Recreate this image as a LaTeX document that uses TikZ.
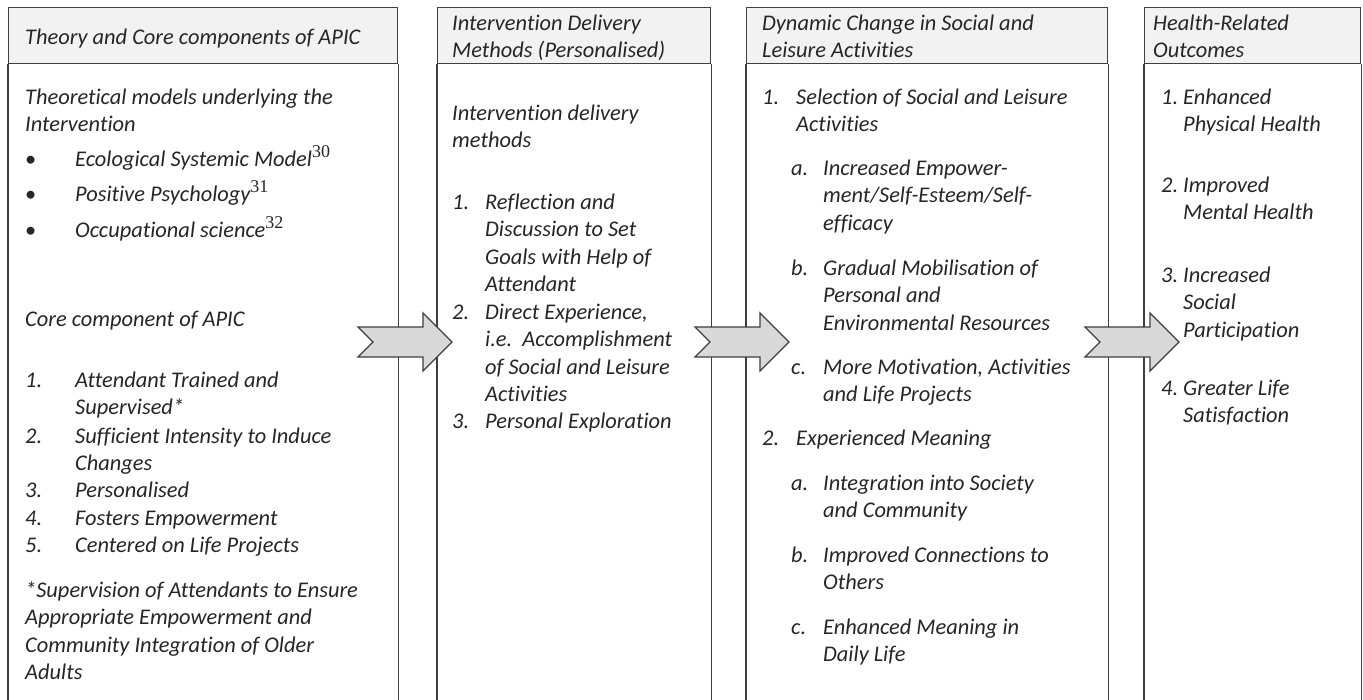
\documentclass[tikz,border=0pt]{standalone}
\usepackage{fontspec}
\setmainfont{Carlito}[Ligatures=NoCommon]
\newfontfamily\refnum{Liberation Serif}
\definecolor{framegray}{HTML}{3F3F3F}
\definecolor{headgray}{HTML}{F2F2F2}
\definecolor{arrowgray}{HTML}{D9D9D9}
\definecolor{inkgray}{HTML}{262626}
\newcommand{\refsup}[1]{\smash{\raisebox{9pt}{\refnum\upshape\fontsize{18}{18}\selectfont #1}}}

\begin{document}
\begin{tikzpicture}[x=1pt,y=-1pt,
  frame/.style={draw=framegray, line width=1.3pt},
  head/.style={frame, fill=headgray, anchor=north west, minimum height=56pt, inner sep=0pt},
  txt/.style={anchor=north west, yshift=19.18pt, inner sep=0pt, align=left, text=inkgray,
    font=\itshape\fontsize{22.4}{27.4}\selectfont, execute at begin node=\strut},
  blockarr/.style={frame, fill=arrowgray, line join=miter}]
\fill[white] (0,0) rectangle (1363,699);
\useasboundingbox (0,0) rectangle (1363,699);

% the four columns
\node[head, minimum width=389pt] (h1) at (8,7) {};
\node[head, minimum width=273pt] (h2) at (437,7) {};
\node[head, minimum width=361pt] (h3) at (746,7) {};
\node[head, minimum width=216pt] (h4) at (1144,7) {};
\draw[frame] (h1.south west) -- ++(0,700);
\draw[frame] (h1.south east) -- ++(0,700);
\draw[frame] (h2.south west) -- ++(0,700);
\draw[frame] (h2.south east) -- ++(0,700);
\draw[frame] (h3.south west) -- ++(0,700);
\draw[frame] (h3.south east) -- ++(0,700);
\draw[frame] (h4.south west) -- ++(0,700);
\draw[frame] (h4.south east) -- ++(0,700);
\node[txt] (k1) at (25,44) {Theory and Core components of APIC};
\node[txt] (k2) at (452,30) {\strut Intervention Delivery\\Methods (Personalised)};
\node[txt] (k3) at (762,30) {\strut Dynamic Change in Social and\\Leisure Activities};
\node[txt] (k4) at (1153,30) {\strut Health-Related\\Outcomes};

% theory and core components
\node[txt] (t1) at (25,104) {\strut Theoretical models underlying the\\Intervention};
\node[txt] (b1) at (25,166) {\upshape\textbullet};
\node[txt] (m1) at (75,166) {Ecological Systemic Model\refsup{30}};
\node[txt] (b2) at (25,201) {\upshape\textbullet};
\node[txt] (m2) at (75,201) {Positive Psychology\refsup{31}};
\node[txt] (b3) at (25,237) {\upshape\textbullet};
\node[txt] (m3) at (75,237) {Occupational science\refsup{32}};
\node[txt] (t2) at (25,326) {Core component of APIC};
\node[txt] (n1) at (25,387) {1.};
\node[txt] (c1) at (75,387) {\strut Attendant Trained and\\Supervised*};
\node[txt] (n2) at (25,443) {2.};
\node[txt] (c2) at (75,443) {\strut Sufficient Intensity to Induce\\Changes};
\node[txt] (n3) at (25,497) {3.};
\node[txt] (c3) at (75,497) {Personalised};
\node[txt] (n4) at (25,525) {4.};
\node[txt] (c4) at (75,525) {Fosters Empowerment};
\node[txt] (n5) at (25,552) {5.};
\node[txt] (c5) at (75,552) {Centered on Life Projects};
\node[txt] (t3) at (25,597) {\strut*Supervision of Attendants to Ensure\\Appropriate Empowerment and\\Community Integration of Older\\Adults};

% delivery methods
\node[txt] (t4) at (452,120) {\strut Intervention delivery\\methods};
\node[txt] (n6) at (452,209) {1.};
\node[txt] (d1) at (485,209) {\strut Reflection and\\Discussion to Set\\Goals with Help of\\Attendant};
\node[txt] (n7) at (452,319) {2.};
\node[txt] (d2) at (485,319) {\strut Direct Experience,\\i.e.~~Accomplishment\\of Social and Leisure\\Activities};
\node[txt] (n8) at (452,428) {3.};
\node[txt] (d3) at (485,428) {Personal Exploration};

% dynamic change
\node[txt] (n9) at (762,104) {1.};
\node[txt] (e1) at (796,104) {\strut Selection of Social and Leisure\\Activities};
\node[txt] (l1) at (791,175) {a.};
\node[txt] (f1) at (823,175) {\strut Increased Empower-\\ment/Self-Esteem/Self-\\efficacy};
\node[txt] (l2) at (791,275) {b.};
\node[txt] (f2) at (823,275) {\strut Gradual Mobilisation of\\Personal and\\Environmental Resources};
\node[txt] (l3) at (791,374) {c.};
\node[txt] (f3) at (823,374) {\strut More Motivation, Activities\\and Life Projects};
\node[txt] (n10) at (762,445) {2.};
\node[txt] (e2) at (796,445) {Experienced Meaning};
\node[txt] (l4) at (791,490) {a.};
\node[txt] (f4) at (823,490) {\strut Integration into Society\\and Community};
\node[txt] (l5) at (791,562) {b.};
\node[txt] (f5) at (823,562) {\strut Improved Connections to\\Others};
\node[txt] (l6) at (791,634) {c.};
\node[txt] (f6) at (823,634) {\strut Enhanced Meaning in\\Daily Life};

% outcomes
\node[txt] (n11) at (1161,104) {1.};
\node[txt] (g1) at (1183,104) {\strut Enhanced\\Physical Health};
\node[txt] (n12) at (1161,192) {2.};
\node[txt] (g2) at (1183,192) {\strut Improved\\Mental Health};
\node[txt] (n13) at (1161,282) {3.};
\node[txt] (g3) at (1183,282) {\strut Increased\\Social\\Participation};
\node[txt] (n14) at (1161,395) {4.};
\node[txt] (g4) at (1183,395) {\strut Greater Life\\Satisfaction};

% block arrows between the columns
\coordinate (a1) at (358,342);
\coordinate (a2) at (695,342);
\coordinate (a3) at (1085,342);
\draw[blockarr] (a1) ++(0,-15) -- ++(65,0) -- ++(0,-14) -- ++(29,29) -- ++(-29,29) -- ++(0,-14) -- ++(-65,0) -- ++(15,-15) -- cycle;
\draw[blockarr] (a2) ++(0,-15) -- ++(65,0) -- ++(0,-14) -- ++(29,29) -- ++(-29,29) -- ++(0,-14) -- ++(-65,0) -- ++(15,-15) -- cycle;
\draw[blockarr] (a3) ++(0,-15) -- ++(65,0) -- ++(0,-14) -- ++(29,29) -- ++(-29,29) -- ++(0,-14) -- ++(-65,0) -- ++(15,-15) -- cycle;
\end{tikzpicture}
\end{document}
